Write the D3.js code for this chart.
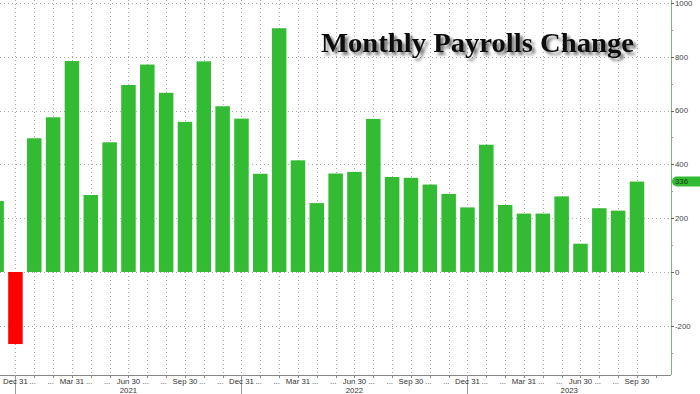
<!DOCTYPE html>
<html>
<head>
<meta charset="utf-8">
<script src="https://cdn.jsdelivr.net/npm/d3@7"></script>
<style>
  html, body { margin: 0; padding: 0; background: #fff; }
  svg { display: block; }
</style>
</head>
<body>
<svg id="chart" width="700" height="394"></svg>
<script>
// ---- Data ----
const months = [
  "2020-11","2020-12",
  "2021-01","2021-02","2021-03","2021-04","2021-05","2021-06","2021-07","2021-08","2021-09","2021-10","2021-11","2021-12",
  "2022-01","2022-02","2022-03","2022-04","2022-05","2022-06","2022-07","2022-08","2022-09","2022-10","2022-11","2022-12",
  "2023-01","2023-02","2023-03","2023-04","2023-05","2023-06","2023-07","2023-08","2023-09"
];
const payrolls = [
  264, -268,
  497, 575, 784, 286, 482, 695, 771, 666, 558, 783, 616, 570,
  365, 906, 415, 256, 366, 372, 569, 353, 350, 325, 290, 240,
  473, 249, 217, 217, 281, 105, 237, 228, 336
];
const quarterMonths = ["2020-12","2021-03","2021-06","2021-09","2021-12","2022-03","2022-06","2022-09","2022-12","2023-03","2023-06","2023-09"];
const quarterLabels = ["Dec 31","Mar 31","Jun 30","Sep 30","Dec 31","Mar 31","Jun 30","Sep 30","Dec 31","Mar 31","Jun 30","Sep 30"];
const yearSplits = ["2020-12","2021-12","2022-12"];
const yearLabels = ["2021","2022","2023"];
const yTicks = [-200, 0, 200, 400, 600, 800, 1000];
const yMinorTicks = [-300, -100, 100, 300, 500, 700, 900];
const lastValue = 336;

// ---- Layout ----
const axisX = 671, plotBottom = 375, plotTop = 0;
const svg = d3.select("#chart");

const x = d3.scaleBand().domain(months).range([-12.8, 646.4]).paddingInner(0.23).paddingOuter(0.115);
const cx = m => x(m) + x.bandwidth() / 2;
const y = d3.scaleLinear().domain([-383, 1011]).range([plotBottom, plotTop]);

svg.append("defs").append("clipPath").attr("id", "plotclip")
  .append("rect").attr("x", 0).attr("y", 0).attr("width", axisX).attr("height", plotBottom);

const filt = svg.select("defs").append("filter").attr("id", "shadow")
  .attr("x", "-10%").attr("y", "-30%").attr("width", "120%").attr("height", "170%");
filt.append("feGaussianBlur").attr("in", "SourceAlpha").attr("stdDeviation", 1.8).attr("result", "b");
filt.append("feOffset").attr("in", "b").attr("dx", 3).attr("dy", 3).attr("result", "o");
filt.append("feComponentTransfer").attr("in", "o").attr("result", "o2")
  .append("feFuncA").attr("type", "linear").attr("slope", 0.55);
const fm = filt.append("feMerge");
fm.append("feMergeNode").attr("in", "o2");
fm.append("feMergeNode").attr("in", "SourceGraphic");

// Gridlines
const grid = svg.append("g").attr("clip-path", "url(#plotclip)");
grid.selectAll("line.h").data(yTicks).join("line")
  .attr("x1", 0).attr("x2", axisX).attr("y1", d => Math.round(y(d)) + 0.5).attr("y2", d => Math.round(y(d)) + 0.5)
  .attr("stroke", "#aaaaaa").attr("stroke-width", 1).attr("stroke-dasharray", "1,3");
grid.selectAll("line.v").data(months).join("line")
  .attr("x1", d => Math.round(cx(d)) + 0.5).attr("x2", d => Math.round(cx(d)) + 0.5)
  .attr("y1", 0).attr("y2", plotBottom)
  .attr("stroke", "#aaaaaa").attr("stroke-width", 1).attr("stroke-dasharray", "1,3");

// Bars
svg.append("g").attr("clip-path", "url(#plotclip)")
  .selectAll("rect").data(months).join("rect")
  .attr("x", d => x(d))
  .attr("width", x.bandwidth())
  .attr("y", (d, i) => y(Math.max(0, payrolls[i])))
  .attr("height", (d, i) => Math.abs(y(payrolls[i]) - y(0)))
  .attr("fill", (d, i) => payrolls[i] < 0 ? "#ff0000" : "#33bb33");

// Right axis
const ya = svg.append("g");
ya.append("line").attr("x1", axisX + 0.5).attr("x2", axisX + 0.5).attr("y1", 0).attr("y2", plotBottom)
  .attr("stroke", "#77bb77").attr("stroke-width", 1);
ya.selectAll("line.maj").data(yTicks).join("line")
  .attr("x1", axisX).attr("x2", axisX + 3).attr("y1", d => Math.round(y(d)) + 0.5).attr("y2", d => Math.round(y(d)) + 0.5)
  .attr("stroke", "#666");
ya.selectAll("line.min").data(yMinorTicks).join("line")
  .attr("x1", axisX).attr("x2", axisX + 2).attr("y1", d => Math.round(y(d)) + 0.5).attr("y2", d => Math.round(y(d)) + 0.5)
  .attr("stroke", "#999");
ya.selectAll("text").data(yTicks).join("text")
  .attr("x", axisX + 4).attr("y", d => y(d) + 2.8)
  .attr("font-family", "'Liberation Sans', Arial, sans-serif").attr("font-size", 7.8).attr("fill", "#444")
  .text(d => d);

// Last value pill
const pv = svg.append("g");
pv.append("rect").attr("x", axisX + 1).attr("y", y(lastValue) - 5).attr("width", 34).attr("height", 10)
  .attr("rx", 5).attr("fill", "#33bb33");
pv.append("text").attr("x", axisX + 4).attr("y", y(lastValue) + 2.8)
  .attr("font-family", "'Liberation Sans', Arial, sans-serif").attr("font-size", 7.8).attr("fill", "#1a3a1a")
  .text(lastValue);

// Bottom axis
const xa = svg.append("g");
xa.append("line").attr("x1", 0).attr("x2", axisX).attr("y1", plotBottom + 0.5).attr("y2", plotBottom + 0.5)
  .attr("stroke", "#888").attr("stroke-width", 1);
xa.selectAll("line.t").data(months).join("line")
  .attr("x1", d => Math.round(cx(d)) + 0.5).attr("x2", d => Math.round(cx(d)) + 0.5)
  .attr("y1", plotBottom).attr("y2", plotBottom + 3).attr("stroke", "#888");
xa.append("line")
  .attr("x1", Math.round(cx(months[months.length - 1]) + x.step()) + 0.5)
  .attr("x2", Math.round(cx(months[months.length - 1]) + x.step()) + 0.5)
  .attr("y1", plotBottom).attr("y2", plotBottom + 3).attr("stroke", "#888");
xa.selectAll("line.y").data(yearSplits).join("line")
  .attr("x1", d => Math.round(cx(d)) + 0.5).attr("x2", d => Math.round(cx(d)) + 0.5)
  .attr("y1", plotBottom).attr("y2", 394).attr("stroke", "#999");

const lblFont = "'Liberation Sans', Arial, sans-serif";
quarterMonths.forEach((m, i) => {
  const c = cx(m);
  xa.append("text").attr("x", c).attr("y", 384).attr("text-anchor", "middle")
    .attr("font-family", lblFont).attr("font-size", 7.8).attr("fill", "#333").text(quarterLabels[i]);
  if (i > 0) xa.append("text").attr("x", c - 18).attr("y", 384).attr("text-anchor", "end")
    .attr("font-family", lblFont).attr("font-size", 7.8).attr("fill", "#333").text("...");
  if (i < quarterMonths.length - 1) xa.append("text").attr("x", c + 14).attr("y", 384).attr("text-anchor", "start")
    .attr("font-family", lblFont).attr("font-size", 7.8).attr("fill", "#333").text("...");
});
const yearBounds = [cx(yearSplits[0]), cx(yearSplits[1]), cx(yearSplits[2]), axisX];
yearLabels.forEach((yl, i) => {
  xa.append("text").attr("x", (yearBounds[i] + yearBounds[i + 1]) / 2).attr("y", 393).attr("text-anchor", "middle")
    .attr("font-family", lblFont).attr("font-size", 7.8).attr("fill", "#333").text(yl);
});

// Title
svg.append("text").attr("x", 321).attr("y", 52)
  .attr("font-family", "'Liberation Serif', 'Times New Roman', serif").attr("font-weight", "bold")
  .attr("font-size", 27).attr("fill", "#111")
  .attr("textLength", 313).attr("lengthAdjust", "spacingAndGlyphs")
  .attr("filter", "url(#shadow)")
  .text("Monthly Payrolls Change");
</script>
</body>
</html>
